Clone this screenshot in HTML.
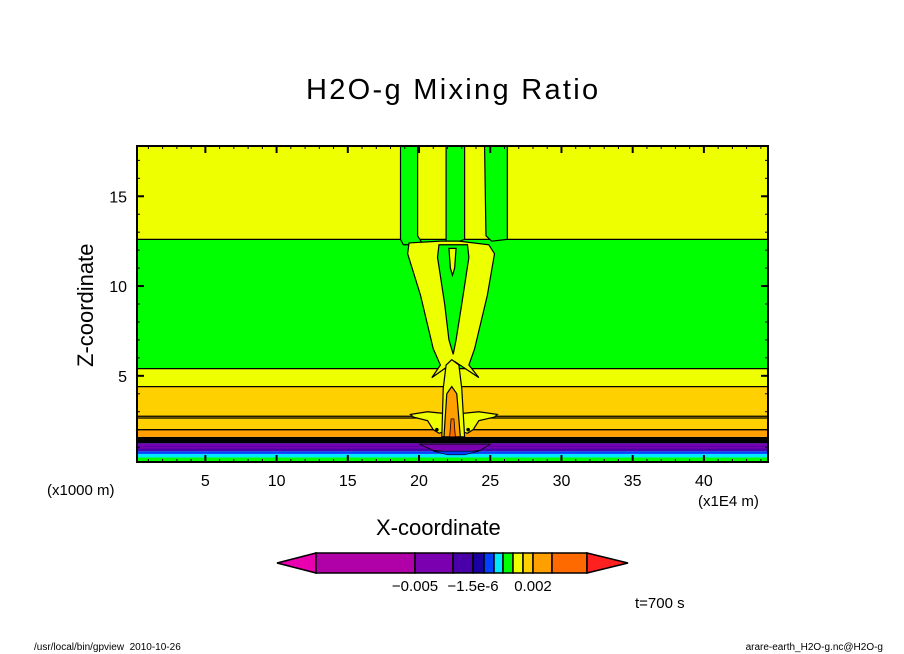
<!DOCTYPE html>
<html><head><meta charset="utf-8">
<style>
html,body{margin:0;padding:0;background:#fff;}
body{width:904px;height:654px;overflow:hidden;position:relative;font-family:"Liberation Sans",sans-serif;}
.t{position:absolute;white-space:nowrap;color:#000;}
</style></head><body>
<svg id="chart" width="904" height="654" style="position:absolute;left:0;top:0" xmlns="http://www.w3.org/2000/svg"></svg>
<div class="t" style="left:306px;top:74px;font-size:29px;letter-spacing:2.3px;">H2O-g Mixing Ratio</div>
<div class="t" style="left:22px;top:292px;font-size:22px;transform:rotate(-90deg);transform-origin:63px 12px;width:126px;">Z-coordinate</div>
<div class="t" style="left:376px;top:515px;font-size:22px;">X-coordinate</div>
<div class="t" style="left:47px;top:482px;font-size:15px;">(x1000 m)</div>
<div class="t" style="left:698px;top:493px;font-size:15px;">(x1E4 m)</div>
<div class="t" style="left:635px;top:595px;font-size:15px;">t=700 s</div>
<div class="t" style="left:34px;top:642px;font-size:10px;">/usr/local/bin/gpview &nbsp;2010-10-26</div>
<div class="t" style="right:21px;top:642px;font-size:10px;">arare-earth_H2O-g.nc@H2O-g</div>
<script>
// ---- data ----
const xTicks = [5,10,15,20,25,30,35,40];
const yTicks = [5,10,15];
const xMinorStep = 1;
const xDomain = [0.2, 44.5];
const yDomain = [0.2, 17.8];
// far-field horizontal layer boundaries (km) and their fill colours (bottom -> top)
const layerTops = [0.45, 0.65, 0.8, 1.25, 1.6, 2.0, 4.4, 5.4, 12.6, 17.8];
const layerColors = ['#00ff00','#00e8ff','#0040ff','#4a00a8','#000000','#ffa000','#ffd000','#eeff00','#00ff00','#eeff00'];
const contourLines = [1.3,1.4,1.5,2.0,2.65,2.75,4.4,5.4,12.6];
// colour-bar
const cbColors = ['#b000a8','#7a00b0','#4a00a8','#1a00a0','#0040ff','#00e8ff','#00ff00','#eeff00','#ffd000','#ffa000','#ff6a00'];
const cbWidths = [99,38,20,11,10,9,10,10,10,19,35];
const cbLabels = ['\u22120.005','\u22121.5e-6','0.002'];
const cbLabelIdx = [1,3,9];

// ---- axes ----
const L=137,R=768,T=146,B=462;
const sx=v=>L+(v-xDomain[0])/(xDomain[1]-xDomain[0])*(R-L);
const sy=v=>B-(v-yDomain[0])/(yDomain[1]-yDomain[0])*(B-T);
const svg=document.getElementById('chart');
const NS='http://www.w3.org/2000/svg';
function mk(tag,attrs,name){const e=document.createElementNS(NS,tag);for(const k in attrs)e.setAttribute(k,attrs[k]);


svg.appendChild(e);return e;}
function poly(pts,fill,name,sw){return mk('polygon',{points:pts.map(p=>sx(p[0])+','+sy(p[1])).join(' '),fill:fill,stroke:'#000','stroke-width':sw===undefined?1.2:sw},name);}

// layers
let prev=yDomain[0];
layerTops.forEach((top,i)=>{
  mk('rect',{x:L,y:sy(top),width:R-L,height:sy(prev)-sy(top),fill:layerColors[i]},'layer-band');
  prev=top;
});
[[0.95,1.05,'#7a00b0'],[1.1,1.2,'#7a00b0']].forEach(b=>mk('rect',{x:L,y:sy(b[1]),width:R-L,height:sy(b[0])-sy(b[1]),fill:b[2]},'purple-band'));
contourLines.forEach(v=>mk('line',{x1:L,x2:R,y1:sy(v),y2:sy(v),stroke:'#000','stroke-width':1.3},'contour-line'));

// central plume structures
poly([[18.7,17.8],[19.9,17.8],[19.9,12.8],[20.3,12.3],[18.9,12.3],[18.7,12.6]],'#00ff00','plume-green-left');
poly([[21.9,17.8],[23.2,17.8],[23.2,12.6],[22.5,12.4],[21.9,12.5]],'#00ff00','plume-green-center');
poly([[24.6,17.8],[26.2,17.8],[26.2,12.6],[25.1,12.5],[24.7,12.8]],'#00ff00','plume-green-right');
poly([[19.3,12.4],[21.5,12.5],[22.8,12.5],[24.9,12.3],[25.3,11.8],[24.8,9.5],[23.9,6.5],[23.5,5.6],[24.2,4.9],[22.5,5.8],[20.9,4.9],[21.5,5.6],[21.0,6.5],[20.1,9.5],[19.2,11.8]],'#eeff00','plume-yellow-v');
poly([[21.4,12.3],[23.4,12.3],[23.5,11.6],[23.0,9.0],[22.6,7.0],[22.4,6.2],[22.1,7.0],[21.8,9.0],[21.3,11.6]],'#00ff00','plume-green-core');
poly([[22.1,12.1],[22.6,12.1],[22.5,11.0],[22.35,10.6],[22.2,11.0]],'#eeff00','plume-yellow-eye');
// yellow wings
poly([[21.8,2.9],[20.6,3.0],[19.4,2.85],[19.6,2.7],[20.6,2.5],[21.0,2.0],[21.4,1.8],[21.8,1.9]],'#eeff00','wing-left');
poly([[22.95,2.9],[24.2,3.0],[25.5,2.85],[25.3,2.7],[24.2,2.5],[23.8,2.0],[23.4,1.8],[22.95,1.9]],'#eeff00','wing-right');
poly([[21.9,5.6],[22.3,5.9],[22.8,5.6],[23.0,4.3],[23.2,1.6],[21.6,1.6],[21.7,4.3]],'#eeff00','spike-yellow');
poly([[21.95,4.0],[22.3,4.4],[22.65,4.0],[22.9,1.6],[21.75,1.6]],'#ffa000','spike-orange');
poly([[22.15,1.6],[22.55,1.6],[22.45,2.6],[22.25,2.6]],'#ff6a00','spike-red',0.8);
mk('circle',{cx:sx(21.25),cy:sy(2.0),r:1.8,fill:'#000'},'contour-dot');
mk('circle',{cx:sx(23.45),cy:sy(2.0),r:1.8,fill:'#000'},'contour-dot');
poly([[20.0,1.2],[25.0,1.2],[24.3,0.85],[22.8,0.7],[21.0,0.85]],'#7a00b0','bottom-purple-blob',0.8);
poly([[21.0,0.8],[24.2,0.8],[23.2,0.6],[22.0,0.6]],'#0040ff','bottom-blue-blob',0.6);

// frame & ticks
mk('rect',{x:L,y:T,width:R-L,height:B-T,fill:'none',stroke:'#000','stroke-width':2},'plot-frame');
for(let v=Math.ceil(xDomain[0]);v<=xDomain[1];v+=xMinorStep){
  const big=xTicks.includes(v);
  mk('line',{x1:sx(v),x2:sx(v),y1:B,y2:B-(big?7:3),stroke:'#000','stroke-width':big?2:1},'x-tick');
  mk('line',{x1:sx(v),x2:sx(v),y1:T,y2:T+(big?7:3),stroke:'#000','stroke-width':big?2:1},'x-tick-top');
}
xTicks.forEach(v=>{const t=mk('text',{x:sx(v),y:486,'text-anchor':'middle','font-size':16,'font-family':'Liberation Sans, sans-serif'},'x-tick-label');t.textContent=v;});
for(let v=1;v<=17;v++){
  const big=yTicks.includes(v);
  mk('line',{x1:L,x2:L+(big?7:3),y1:sy(v),y2:sy(v),stroke:'#000','stroke-width':big?2:1},'y-tick');
  mk('line',{x1:R,x2:R-(big?7:3),y1:sy(v),y2:sy(v),stroke:'#000','stroke-width':big?2:1},'y-tick-right');
}
yTicks.forEach(v=>{const t=mk('text',{x:127,y:sy(v)+6,'text-anchor':'end','font-size':16,'font-family':'Liberation Sans, sans-serif'},'y-tick-label');t.textContent=v;});

// colour bar
const cbX=316,cbY=553,cbH=20;
mk('polygon',{points:`277,${cbY+cbH/2} ${cbX},${cbY} ${cbX},${cbY+cbH}`,fill:'#e800b0',stroke:'#000','stroke-width':1.5},'colorbar-low-arrow');
let cx=cbX;const edges=[cbX];
cbColors.forEach((c,i)=>{mk('rect',{x:cx,y:cbY,width:cbWidths[i],height:cbH,fill:c,stroke:'#000','stroke-width':1.5},'colorbar-swatch');cx+=cbWidths[i];edges.push(cx);});
mk('polygon',{points:`${cx},${cbY} ${cx},${cbY+cbH} 628,${cbY+cbH/2}`,fill:'#ff2020',stroke:'#000','stroke-width':1.5},'colorbar-high-arrow');
cbLabels.forEach((s,i)=>{const t=mk('text',{x:edges[cbLabelIdx[i]],y:591,'text-anchor':'middle','font-size':15,'font-family':'Liberation Sans, sans-serif'},'colorbar-label');t.textContent=s;});
</script>
</body></html>
